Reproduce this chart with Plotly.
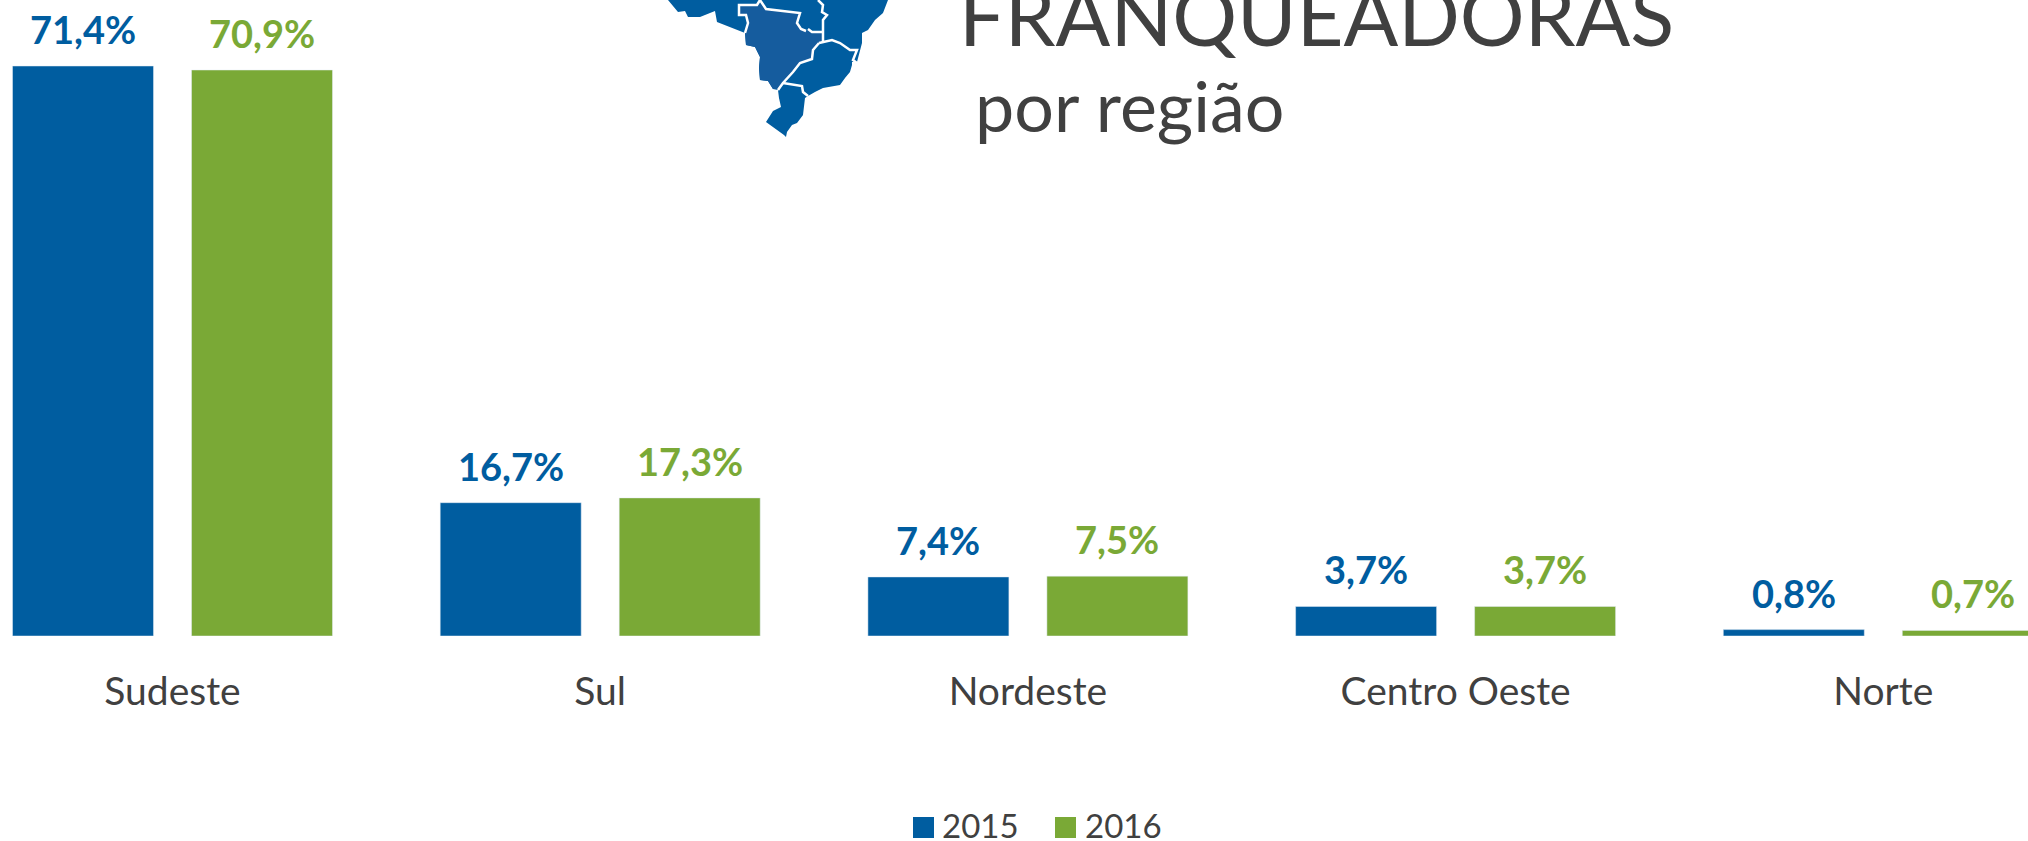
import plotly.graph_objects as go

W, H = 2028, 841
categories = ["Sudeste", "Sul", "Nordeste", "Centro Oeste", "Norte"]
series_2015 = [71.4, 16.7, 7.4, 3.7, 0.8]
series_2016 = [70.9, 17.3, 7.5, 3.7, 0.7]
BLUE, GREEN, TEXT = "#005DA0", "#7AA936", "#404040"
FONT = "Lato"

def px_x(x): return x / W
def px_y(y): return 1 - y / H
def path(pts, close=True):
    d = "M" + " L".join(f"{px_x(x):.5f},{px_y(y):.5f}" for x, y in pts)
    return d + (" Z" if close else "")

brazil = [(668,0),(678,12),(685,11),(688,17),(700,17),(715,11),(717,22),(745,33),(746,45),(755,47),(760,57),(759,68),(760,80),(768,81),(773,89),(778,90),(779,98),(781,107),(773,111),(766,122),(784,135),(786,137),(787,132),(792,125),(797,123),(803,115),(805,98),(808,96),(815,92),(823,88),(840,85),(845,78),(850,72),(852,65),(852,62),(857,62),(862,43),(862,33),(868,30),(875,20),(883,13),(888,0)]
center_west = [(745,33),(748,23),(746,15),(739,15),(739,5),(757,5),(760,0),(766,9),(800,13),(797,23),(801,29),(812,32),(823,33),(823,42),(819,43),(813,50),(812,59),(800,63),(793,72),(783,83),(778,89),(773,89),(768,81),(760,80),(759,68),(760,57),(755,47),(746,45)]
borders = [
    [(745,33),(748,23),(746,15),(739,15),(739,5),(757,5),(760,0),(766,9),(800,13),(797,23),(801,29),(806,31)],
    [(808,29),(812,32),(823,32)],
    [(818,0),(823,5),(822,12),(827,15),(823,20),(823,43)],
    [(819,43),(832,40),(840,43),(850,50),(857,50),(853,60),(857,63)],
    [(819,43),(813,50),(812,59),(800,63),(793,72),(783,83),(778,90)],
    [(783,83),(802,86),(803,92),(808,96)],
]
shapes = [
    dict(type="path", xref="paper", yref="paper", path=path(brazil), fillcolor=BLUE, line_width=0),
    dict(type="path", xref="paper", yref="paper", path=path(center_west), fillcolor="#155C9E", line_width=0),
]
for b in borders:
    shapes.append(dict(type="path", xref="paper", yref="paper", path=path(b, False), line=dict(color="white", width=2.5)))
for x0, c in ((913, BLUE), (1055, GREEN)):
    shapes.append(dict(type="rect", xref="paper", yref="paper", x0=px_x(x0), x1=px_x(x0+21), y0=px_y(838), y1=px_y(817), fillcolor=c, line_width=0))

fig = go.Figure()
fig.add_bar(name="2015", x=categories, y=series_2015, marker_color=BLUE, showlegend=False)
fig.add_bar(name="2016", x=categories, y=series_2016, marker_color=GREEN, showlegend=False)

ann = []
for vals, c, shift in ((series_2015, BLUE, -89.5), (series_2016, GREEN, 89.5)):
    for i, v in enumerate(vals):
        ann.append(dict(x=i, y=v, xref="x", yref="y", text=f"{v:.1f}%".replace(".", ","), showarrow=False,
                        xshift=shift, yshift=12, yanchor="bottom", font=dict(family=FONT, size=38, color=c, weight="bold")))
for txt, x, y, size in (("FRANQUEADORAS", 957, 65, 81), ("por região", 973, 149, 70)):
    ann.append(dict(xref="paper", yref="paper", x=px_x(x), y=px_y(y), text=txt, showarrow=False, xanchor="left",
                    yanchor="bottom", font=dict(family=FONT, size=size, color=TEXT)))
for txt, x in (("2015", 940), ("2016", 1083)):
    ann.append(dict(xref="paper", yref="paper", x=px_x(x), y=px_y(825), text=txt, showarrow=False, xanchor="left",
                    yanchor="middle", font=dict(family=FONT, size=33, color=TEXT)))

fig.update_layout(
    width=W, height=H, margin=dict(l=0, r=0, t=0, b=0), paper_bgcolor="white", plot_bgcolor="white",
    barmode="group", bargap=0.163, bargroupgap=0.2123, separators=",.",
    xaxis=dict(type="category", range=[-172.5/427.7, (W-172.5)/427.7], showgrid=False, zeroline=False, showline=False,
               ticks="outside", ticklen=21, tickcolor="rgba(0,0,0,0)", tickfont=dict(family=FONT, size=39, color=TEXT), anchor="y"),
    yaxis=dict(domain=[205/H, 1], range=[0, 636/7.983], visible=False),
    shapes=shapes, annotations=ann,
)
fig.write_html("out.html", config=dict(displayModeBar=False),
               post_script="document.body.style.margin='0';document.documentElement.style.overflow='hidden';")
